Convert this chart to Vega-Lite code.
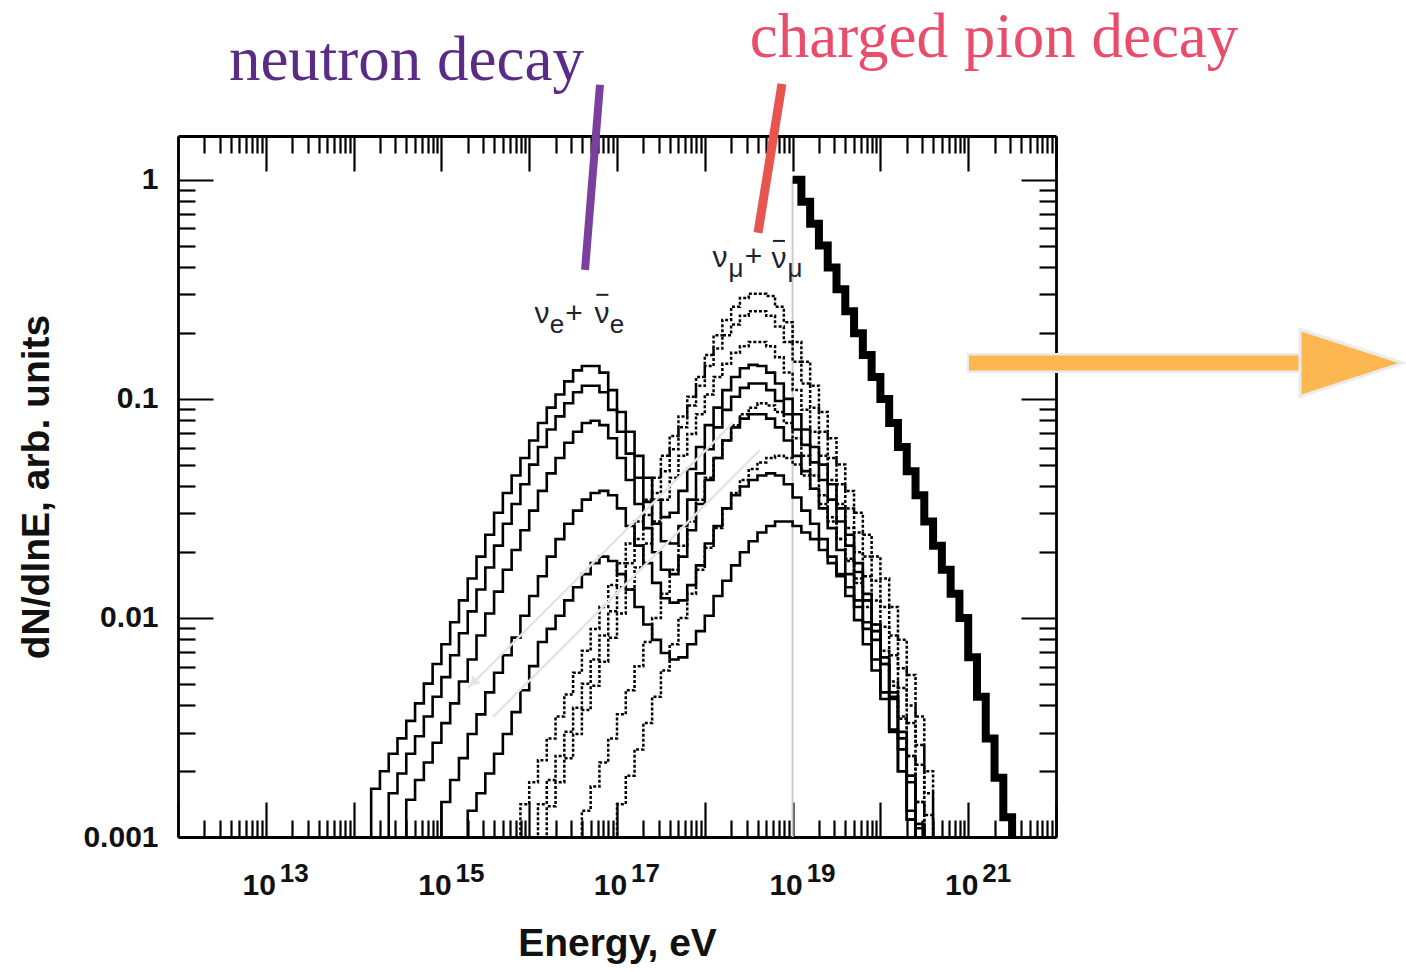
{
  "$schema": "https://vega.github.io/schema/vega-lite/v6.json",
  "width": 878,
  "height": 701,
  "autosize": {"type": "none"},
  "padding": {"left": 178, "top": 136, "right": 350, "bottom": 135},
  "background": "white",
  "config": {"view": {"stroke": null}, "font": "Liberation Sans", "axis": {"grid": false}},
  "datasets": {
    "nu_e": [
      {"curve":1,"lgE":14.1,"lgF":-3.5},{"curve":1,"lgE":14.2,"lgF":-2.78},{"curve":1,"lgE":14.3,"lgF":-2.7},{"curve":1,"lgE":14.4,"lgF":-2.62},{"curve":1,"lgE":14.5,"lgF":-2.55},{"curve":1,"lgE":14.6,"lgF":-2.47},{"curve":1,"lgE":14.7,"lgF":-2.39},{"curve":1,"lgE":14.8,"lgF":-2.3},{"curve":1,"lgE":14.9,"lgF":-2.21},{"curve":1,"lgE":15.0,"lgF":-2.12},{"curve":1,"lgE":15.1,"lgF":-2.02},{"curve":1,"lgE":15.2,"lgF":-1.92},{"curve":1,"lgE":15.3,"lgF":-1.82},{"curve":1,"lgE":15.4,"lgF":-1.72},{"curve":1,"lgE":15.5,"lgF":-1.62},{"curve":1,"lgE":15.6,"lgF":-1.52},{"curve":1,"lgE":15.7,"lgF":-1.43},{"curve":1,"lgE":15.8,"lgF":-1.35},{"curve":1,"lgE":15.9,"lgF":-1.27},{"curve":1,"lgE":16.0,"lgF":-1.19},{"curve":1,"lgE":16.1,"lgF":-1.11},{"curve":1,"lgE":16.2,"lgF":-1.04},{"curve":1,"lgE":16.3,"lgF":-0.98},{"curve":1,"lgE":16.4,"lgF":-0.92},{"curve":1,"lgE":16.5,"lgF":-0.87},{"curve":1,"lgE":16.6,"lgF":-0.85},{"curve":1,"lgE":16.7,"lgF":-0.85},{"curve":1,"lgE":16.8,"lgF":-0.88},{"curve":1,"lgE":16.9,"lgF":-0.96},{"curve":1,"lgE":17.0,"lgF":-1.06},{"curve":1,"lgE":17.1,"lgF":-1.15},{"curve":1,"lgE":17.2,"lgF":-1.26},{"curve":1,"lgE":17.3,"lgF":-1.36},{"curve":1,"lgE":17.4,"lgF":-1.46},{"curve":1,"lgE":17.5,"lgF":-1.54},{"curve":1,"lgE":17.6,"lgF":-1.52},{"curve":1,"lgE":17.7,"lgF":-1.42},{"curve":1,"lgE":17.8,"lgF":-1.32},{"curve":1,"lgE":17.9,"lgF":-1.22},{"curve":1,"lgE":18.0,"lgF":-1.12},{"curve":1,"lgE":18.1,"lgF":-1.04},{"curve":1,"lgE":18.2,"lgF":-0.96},{"curve":1,"lgE":18.3,"lgF":-0.9},{"curve":1,"lgE":18.4,"lgF":-0.86},{"curve":1,"lgE":18.5,"lgF":-0.845},{"curve":1,"lgE":18.6,"lgF":-0.85},{"curve":1,"lgE":18.7,"lgF":-0.88},{"curve":1,"lgE":18.8,"lgF":-0.93},{"curve":1,"lgE":18.9,"lgF":-1.0},{"curve":1,"lgE":19.0,"lgF":-1.07},{"curve":1,"lgE":19.1,"lgF":-1.14},{"curve":1,"lgE":19.2,"lgF":-1.22},{"curve":1,"lgE":19.3,"lgF":-1.3},{"curve":1,"lgE":19.4,"lgF":-1.39},{"curve":1,"lgE":19.5,"lgF":-1.5},{"curve":1,"lgE":19.6,"lgF":-1.62},{"curve":1,"lgE":19.7,"lgF":-1.75},{"curve":1,"lgE":19.8,"lgF":-1.89},{"curve":1,"lgE":19.9,"lgF":-2.03},{"curve":1,"lgE":20.0,"lgF":-2.18},{"curve":1,"lgE":20.1,"lgF":-2.34},{"curve":1,"lgE":20.2,"lgF":-2.52},{"curve":1,"lgE":20.3,"lgF":-2.72},{"curve":1,"lgE":20.4,"lgF":-2.94},{"curve":1,"lgE":20.5,"lgF":-3.5},
      {"curve":2,"lgE":14.3,"lgF":-3.5},{"curve":2,"lgE":14.4,"lgF":-2.8},{"curve":2,"lgE":14.5,"lgF":-2.71},{"curve":2,"lgE":14.6,"lgF":-2.62},{"curve":2,"lgE":14.7,"lgF":-2.54},{"curve":2,"lgE":14.8,"lgF":-2.45},{"curve":2,"lgE":14.9,"lgF":-2.36},{"curve":2,"lgE":15.0,"lgF":-2.27},{"curve":2,"lgE":15.1,"lgF":-2.17},{"curve":2,"lgE":15.2,"lgF":-2.07},{"curve":2,"lgE":15.3,"lgF":-1.97},{"curve":2,"lgE":15.4,"lgF":-1.87},{"curve":2,"lgE":15.5,"lgF":-1.77},{"curve":2,"lgE":15.6,"lgF":-1.67},{"curve":2,"lgE":15.7,"lgF":-1.57},{"curve":2,"lgE":15.8,"lgF":-1.48},{"curve":2,"lgE":15.9,"lgF":-1.39},{"curve":2,"lgE":16.0,"lgF":-1.3},{"curve":2,"lgE":16.1,"lgF":-1.22},{"curve":2,"lgE":16.2,"lgF":-1.14},{"curve":2,"lgE":16.3,"lgF":-1.08},{"curve":2,"lgE":16.4,"lgF":-1.02},{"curve":2,"lgE":16.5,"lgF":-0.97},{"curve":2,"lgE":16.6,"lgF":-0.94},{"curve":2,"lgE":16.7,"lgF":-0.94},{"curve":2,"lgE":16.8,"lgF":-0.97},{"curve":2,"lgE":16.9,"lgF":-1.05},{"curve":2,"lgE":17.0,"lgF":-1.15},{"curve":2,"lgE":17.1,"lgF":-1.25},{"curve":2,"lgE":17.2,"lgF":-1.36},{"curve":2,"lgE":17.3,"lgF":-1.47},{"curve":2,"lgE":17.4,"lgF":-1.57},{"curve":2,"lgE":17.5,"lgF":-1.65},{"curve":2,"lgE":17.6,"lgF":-1.66},{"curve":2,"lgE":17.7,"lgF":-1.58},{"curve":2,"lgE":17.8,"lgF":-1.46},{"curve":2,"lgE":17.9,"lgF":-1.34},{"curve":2,"lgE":18.0,"lgF":-1.23},{"curve":2,"lgE":18.1,"lgF":-1.13},{"curve":2,"lgE":18.2,"lgF":-1.05},{"curve":2,"lgE":18.3,"lgF":-0.99},{"curve":2,"lgE":18.4,"lgF":-0.95},{"curve":2,"lgE":18.5,"lgF":-0.93},{"curve":2,"lgE":18.6,"lgF":-0.93},{"curve":2,"lgE":18.7,"lgF":-0.96},{"curve":2,"lgE":18.8,"lgF":-1.01},{"curve":2,"lgE":18.9,"lgF":-1.07},{"curve":2,"lgE":19.0,"lgF":-1.14},{"curve":2,"lgE":19.1,"lgF":-1.21},{"curve":2,"lgE":19.2,"lgF":-1.29},{"curve":2,"lgE":19.3,"lgF":-1.37},{"curve":2,"lgE":19.4,"lgF":-1.46},{"curve":2,"lgE":19.5,"lgF":-1.56},{"curve":2,"lgE":19.6,"lgF":-1.67},{"curve":2,"lgE":19.7,"lgF":-1.79},{"curve":2,"lgE":19.8,"lgF":-1.92},{"curve":2,"lgE":19.9,"lgF":-2.06},{"curve":2,"lgE":20.0,"lgF":-2.21},{"curve":2,"lgE":20.1,"lgF":-2.37},{"curve":2,"lgE":20.2,"lgF":-2.55},{"curve":2,"lgE":20.3,"lgF":-2.75},{"curve":2,"lgE":20.4,"lgF":-2.96},{"curve":2,"lgE":20.5,"lgF":-3.5},
      {"curve":3,"lgE":14.5,"lgF":-3.5},{"curve":3,"lgE":14.6,"lgF":-2.83},{"curve":3,"lgE":14.7,"lgF":-2.74},{"curve":3,"lgE":14.8,"lgF":-2.66},{"curve":3,"lgE":14.9,"lgF":-2.57},{"curve":3,"lgE":15.0,"lgF":-2.48},{"curve":3,"lgE":15.1,"lgF":-2.39},{"curve":3,"lgE":15.2,"lgF":-2.29},{"curve":3,"lgE":15.3,"lgF":-2.19},{"curve":3,"lgE":15.4,"lgF":-2.08},{"curve":3,"lgE":15.5,"lgF":-1.98},{"curve":3,"lgE":15.6,"lgF":-1.88},{"curve":3,"lgE":15.7,"lgF":-1.78},{"curve":3,"lgE":15.8,"lgF":-1.69},{"curve":3,"lgE":15.9,"lgF":-1.6},{"curve":3,"lgE":16.0,"lgF":-1.51},{"curve":3,"lgE":16.1,"lgF":-1.42},{"curve":3,"lgE":16.2,"lgF":-1.34},{"curve":3,"lgE":16.3,"lgF":-1.27},{"curve":3,"lgE":16.4,"lgF":-1.2},{"curve":3,"lgE":16.5,"lgF":-1.15},{"curve":3,"lgE":16.6,"lgF":-1.11},{"curve":3,"lgE":16.7,"lgF":-1.1},{"curve":3,"lgE":16.8,"lgF":-1.12},{"curve":3,"lgE":16.9,"lgF":-1.18},{"curve":3,"lgE":17.0,"lgF":-1.27},{"curve":3,"lgE":17.1,"lgF":-1.37},{"curve":3,"lgE":17.2,"lgF":-1.48},{"curve":3,"lgE":17.3,"lgF":-1.59},{"curve":3,"lgE":17.4,"lgF":-1.7},{"curve":3,"lgE":17.5,"lgF":-1.78},{"curve":3,"lgE":17.6,"lgF":-1.8},{"curve":3,"lgE":17.7,"lgF":-1.72},{"curve":3,"lgE":17.8,"lgF":-1.6},{"curve":3,"lgE":17.9,"lgF":-1.48},{"curve":3,"lgE":18.0,"lgF":-1.37},{"curve":3,"lgE":18.1,"lgF":-1.27},{"curve":3,"lgE":18.2,"lgF":-1.19},{"curve":3,"lgE":18.3,"lgF":-1.13},{"curve":3,"lgE":18.4,"lgF":-1.09},{"curve":3,"lgE":18.5,"lgF":-1.07},{"curve":3,"lgE":18.6,"lgF":-1.07},{"curve":3,"lgE":18.7,"lgF":-1.09},{"curve":3,"lgE":18.8,"lgF":-1.13},{"curve":3,"lgE":18.9,"lgF":-1.19},{"curve":3,"lgE":19.0,"lgF":-1.26},{"curve":3,"lgE":19.1,"lgF":-1.33},{"curve":3,"lgE":19.2,"lgF":-1.41},{"curve":3,"lgE":19.3,"lgF":-1.5},{"curve":3,"lgE":19.4,"lgF":-1.59},{"curve":3,"lgE":19.5,"lgF":-1.69},{"curve":3,"lgE":19.6,"lgF":-1.8},{"curve":3,"lgE":19.7,"lgF":-1.92},{"curve":3,"lgE":19.8,"lgF":-2.05},{"curve":3,"lgE":19.9,"lgF":-2.19},{"curve":3,"lgE":20.0,"lgF":-2.34},{"curve":3,"lgE":20.1,"lgF":-2.51},{"curve":3,"lgE":20.2,"lgF":-2.7},{"curve":3,"lgE":20.3,"lgF":-2.92},{"curve":3,"lgE":20.4,"lgF":-3.5},
      {"curve":4,"lgE":14.9,"lgF":-3.5},{"curve":4,"lgE":15.0,"lgF":-2.84},{"curve":4,"lgE":15.1,"lgF":-2.74},{"curve":4,"lgE":15.2,"lgF":-2.64},{"curve":4,"lgE":15.3,"lgF":-2.53},{"curve":4,"lgE":15.4,"lgF":-2.44},{"curve":4,"lgE":15.5,"lgF":-2.34},{"curve":4,"lgE":15.6,"lgF":-2.25},{"curve":4,"lgE":15.7,"lgF":-2.17},{"curve":4,"lgE":15.8,"lgF":-2.09},{"curve":4,"lgE":15.9,"lgF":-1.99},{"curve":4,"lgE":16.0,"lgF":-1.9},{"curve":4,"lgE":16.1,"lgF":-1.81},{"curve":4,"lgE":16.2,"lgF":-1.72},{"curve":4,"lgE":16.3,"lgF":-1.64},{"curve":4,"lgE":16.4,"lgF":-1.57},{"curve":4,"lgE":16.5,"lgF":-1.51},{"curve":4,"lgE":16.6,"lgF":-1.46},{"curve":4,"lgE":16.7,"lgF":-1.43},{"curve":4,"lgE":16.8,"lgF":-1.42},{"curve":4,"lgE":16.9,"lgF":-1.44},{"curve":4,"lgE":17.0,"lgF":-1.5},{"curve":4,"lgE":17.1,"lgF":-1.58},{"curve":4,"lgE":17.2,"lgF":-1.67},{"curve":4,"lgE":17.3,"lgF":-1.75},{"curve":4,"lgE":17.4,"lgF":-1.84},{"curve":4,"lgE":17.5,"lgF":-1.91},{"curve":4,"lgE":17.6,"lgF":-1.93},{"curve":4,"lgE":17.7,"lgF":-1.92},{"curve":4,"lgE":17.8,"lgF":-1.85},{"curve":4,"lgE":17.9,"lgF":-1.76},{"curve":4,"lgE":18.0,"lgF":-1.66},{"curve":4,"lgE":18.1,"lgF":-1.58},{"curve":4,"lgE":18.2,"lgF":-1.5},{"curve":4,"lgE":18.3,"lgF":-1.44},{"curve":4,"lgE":18.4,"lgF":-1.4},{"curve":4,"lgE":18.5,"lgF":-1.37},{"curve":4,"lgE":18.6,"lgF":-1.35},{"curve":4,"lgE":18.7,"lgF":-1.34},{"curve":4,"lgE":18.8,"lgF":-1.35},{"curve":4,"lgE":18.9,"lgF":-1.39},{"curve":4,"lgE":19.0,"lgF":-1.45},{"curve":4,"lgE":19.1,"lgF":-1.51},{"curve":4,"lgE":19.2,"lgF":-1.57},{"curve":4,"lgE":19.3,"lgF":-1.64},{"curve":4,"lgE":19.4,"lgF":-1.72},{"curve":4,"lgE":19.5,"lgF":-1.81},{"curve":4,"lgE":19.6,"lgF":-1.9},{"curve":4,"lgE":19.7,"lgF":-2.01},{"curve":4,"lgE":19.8,"lgF":-2.12},{"curve":4,"lgE":19.9,"lgF":-2.24},{"curve":4,"lgE":20.0,"lgF":-2.37},{"curve":4,"lgE":20.1,"lgF":-2.52},{"curve":4,"lgE":20.2,"lgF":-2.7},{"curve":4,"lgE":20.3,"lgF":-2.92},{"curve":4,"lgE":20.4,"lgF":-3.5},
      {"curve":5,"lgE":15.2,"lgF":-3.5},{"curve":5,"lgE":15.3,"lgF":-2.88},{"curve":5,"lgE":15.4,"lgF":-2.8},{"curve":5,"lgE":15.5,"lgF":-2.71},{"curve":5,"lgE":15.6,"lgF":-2.62},{"curve":5,"lgE":15.7,"lgF":-2.53},{"curve":5,"lgE":15.8,"lgF":-2.43},{"curve":5,"lgE":15.9,"lgF":-2.33},{"curve":5,"lgE":16.0,"lgF":-2.22},{"curve":5,"lgE":16.1,"lgF":-2.11},{"curve":5,"lgE":16.2,"lgF":-2.05},{"curve":5,"lgE":16.3,"lgF":-1.99},{"curve":5,"lgE":16.4,"lgF":-1.92},{"curve":5,"lgE":16.5,"lgF":-1.86},{"curve":5,"lgE":16.6,"lgF":-1.8},{"curve":5,"lgE":16.7,"lgF":-1.75},{"curve":5,"lgE":16.8,"lgF":-1.72},{"curve":5,"lgE":16.9,"lgF":-1.74},{"curve":5,"lgE":17.0,"lgF":-1.8},{"curve":5,"lgE":17.1,"lgF":-1.87},{"curve":5,"lgE":17.2,"lgF":-1.95},{"curve":5,"lgE":17.3,"lgF":-2.03},{"curve":5,"lgE":17.4,"lgF":-2.1},{"curve":5,"lgE":17.5,"lgF":-2.16},{"curve":5,"lgE":17.6,"lgF":-2.19},{"curve":5,"lgE":17.7,"lgF":-2.18},{"curve":5,"lgE":17.8,"lgF":-2.12},{"curve":5,"lgE":17.9,"lgF":-2.06},{"curve":5,"lgE":18.0,"lgF":-1.99},{"curve":5,"lgE":18.1,"lgF":-1.9},{"curve":5,"lgE":18.2,"lgF":-1.83},{"curve":5,"lgE":18.3,"lgF":-1.76},{"curve":5,"lgE":18.4,"lgF":-1.7},{"curve":5,"lgE":18.5,"lgF":-1.65},{"curve":5,"lgE":18.6,"lgF":-1.61},{"curve":5,"lgE":18.7,"lgF":-1.58},{"curve":5,"lgE":18.8,"lgF":-1.56},{"curve":5,"lgE":18.9,"lgF":-1.56},{"curve":5,"lgE":19.0,"lgF":-1.58},{"curve":5,"lgE":19.1,"lgF":-1.61},{"curve":5,"lgE":19.2,"lgF":-1.64},{"curve":5,"lgE":19.3,"lgF":-1.69},{"curve":5,"lgE":19.4,"lgF":-1.75},{"curve":5,"lgE":19.5,"lgF":-1.8},{"curve":5,"lgE":19.6,"lgF":-1.86},{"curve":5,"lgE":19.7,"lgF":-1.95},{"curve":5,"lgE":19.8,"lgF":-2.02},{"curve":5,"lgE":19.9,"lgF":-2.1},{"curve":5,"lgE":20.0,"lgF":-2.21},{"curve":5,"lgE":20.1,"lgF":-2.36},{"curve":5,"lgE":20.2,"lgF":-2.6},{"curve":5,"lgE":20.3,"lgF":-2.88},{"curve":5,"lgE":20.4,"lgF":-3.5}
    ],
    "nu_mu": [
      {"curve":1,"lgE":15.8,"lgF":-3.5},{"curve":1,"lgE":15.9,"lgF":-2.85},{"curve":1,"lgE":16.0,"lgF":-2.75},{"curve":1,"lgE":16.1,"lgF":-2.65},{"curve":1,"lgE":16.2,"lgF":-2.55},{"curve":1,"lgE":16.3,"lgF":-2.45},{"curve":1,"lgE":16.4,"lgF":-2.35},{"curve":1,"lgE":16.5,"lgF":-2.25},{"curve":1,"lgE":16.6,"lgF":-2.15},{"curve":1,"lgE":16.7,"lgF":-2.05},{"curve":1,"lgE":16.8,"lgF":-1.95},{"curve":1,"lgE":16.9,"lgF":-1.85},{"curve":1,"lgE":17.0,"lgF":-1.75},{"curve":1,"lgE":17.1,"lgF":-1.66},{"curve":1,"lgE":17.2,"lgF":-1.56},{"curve":1,"lgE":17.3,"lgF":-1.46},{"curve":1,"lgE":17.4,"lgF":-1.36},{"curve":1,"lgE":17.5,"lgF":-1.26},{"curve":1,"lgE":17.6,"lgF":-1.17},{"curve":1,"lgE":17.7,"lgF":-1.08},{"curve":1,"lgE":17.8,"lgF":-0.99},{"curve":1,"lgE":17.9,"lgF":-0.9},{"curve":1,"lgE":18.0,"lgF":-0.8},{"curve":1,"lgE":18.1,"lgF":-0.71},{"curve":1,"lgE":18.2,"lgF":-0.64},{"curve":1,"lgE":18.3,"lgF":-0.58},{"curve":1,"lgE":18.4,"lgF":-0.54},{"curve":1,"lgE":18.5,"lgF":-0.52},{"curve":1,"lgE":18.6,"lgF":-0.52},{"curve":1,"lgE":18.7,"lgF":-0.53},{"curve":1,"lgE":18.8,"lgF":-0.58},{"curve":1,"lgE":18.9,"lgF":-0.65},{"curve":1,"lgE":19.0,"lgF":-0.74},{"curve":1,"lgE":19.1,"lgF":-0.83},{"curve":1,"lgE":19.2,"lgF":-0.94},{"curve":1,"lgE":19.3,"lgF":-1.06},{"curve":1,"lgE":19.4,"lgF":-1.18},{"curve":1,"lgE":19.5,"lgF":-1.3},{"curve":1,"lgE":19.6,"lgF":-1.42},{"curve":1,"lgE":19.7,"lgF":-1.52},{"curve":1,"lgE":19.8,"lgF":-1.62},{"curve":1,"lgE":19.9,"lgF":-1.72},{"curve":1,"lgE":20.0,"lgF":-1.82},{"curve":1,"lgE":20.1,"lgF":-1.95},{"curve":1,"lgE":20.2,"lgF":-2.1},{"curve":1,"lgE":20.3,"lgF":-2.26},{"curve":1,"lgE":20.4,"lgF":-2.45},{"curve":1,"lgE":20.5,"lgF":-2.7},{"curve":1,"lgE":20.6,"lgF":-3.5},
      {"curve":2,"lgE":16.0,"lgF":-3.5},{"curve":2,"lgE":16.1,"lgF":-2.85},{"curve":2,"lgE":16.2,"lgF":-2.74},{"curve":2,"lgE":16.3,"lgF":-2.63},{"curve":2,"lgE":16.4,"lgF":-2.52},{"curve":2,"lgE":16.5,"lgF":-2.41},{"curve":2,"lgE":16.6,"lgF":-2.3},{"curve":2,"lgE":16.7,"lgF":-2.19},{"curve":2,"lgE":16.8,"lgF":-2.08},{"curve":2,"lgE":16.9,"lgF":-1.97},{"curve":2,"lgE":17.0,"lgF":-1.86},{"curve":2,"lgE":17.1,"lgF":-1.75},{"curve":2,"lgE":17.2,"lgF":-1.64},{"curve":2,"lgE":17.3,"lgF":-1.53},{"curve":2,"lgE":17.4,"lgF":-1.43},{"curve":2,"lgE":17.5,"lgF":-1.33},{"curve":2,"lgE":17.6,"lgF":-1.23},{"curve":2,"lgE":17.7,"lgF":-1.13},{"curve":2,"lgE":17.8,"lgF":-1.03},{"curve":2,"lgE":17.9,"lgF":-0.94},{"curve":2,"lgE":18.0,"lgF":-0.85},{"curve":2,"lgE":18.1,"lgF":-0.77},{"curve":2,"lgE":18.2,"lgF":-0.71},{"curve":2,"lgE":18.3,"lgF":-0.66},{"curve":2,"lgE":18.4,"lgF":-0.62},{"curve":2,"lgE":18.5,"lgF":-0.6},{"curve":2,"lgE":18.6,"lgF":-0.6},{"curve":2,"lgE":18.7,"lgF":-0.62},{"curve":2,"lgE":18.8,"lgF":-0.67},{"curve":2,"lgE":18.9,"lgF":-0.74},{"curve":2,"lgE":19.0,"lgF":-0.83},{"curve":2,"lgE":19.1,"lgF":-0.93},{"curve":2,"lgE":19.2,"lgF":-1.04},{"curve":2,"lgE":19.3,"lgF":-1.15},{"curve":2,"lgE":19.4,"lgF":-1.27},{"curve":2,"lgE":19.5,"lgF":-1.39},{"curve":2,"lgE":19.6,"lgF":-1.5},{"curve":2,"lgE":19.7,"lgF":-1.61},{"curve":2,"lgE":19.8,"lgF":-1.72},{"curve":2,"lgE":19.9,"lgF":-1.83},{"curve":2,"lgE":20.0,"lgF":-1.95},{"curve":2,"lgE":20.1,"lgF":-2.08},{"curve":2,"lgE":20.2,"lgF":-2.23},{"curve":2,"lgE":20.3,"lgF":-2.4},{"curve":2,"lgE":20.4,"lgF":-2.58},{"curve":2,"lgE":20.5,"lgF":-2.8},{"curve":2,"lgE":20.6,"lgF":-3.5},
      {"curve":3,"lgE":16.1,"lgF":-3.5},{"curve":3,"lgE":16.2,"lgF":-2.86},{"curve":3,"lgE":16.3,"lgF":-2.75},{"curve":3,"lgE":16.4,"lgF":-2.64},{"curve":3,"lgE":16.5,"lgF":-2.53},{"curve":3,"lgE":16.6,"lgF":-2.42},{"curve":3,"lgE":16.7,"lgF":-2.31},{"curve":3,"lgE":16.8,"lgF":-2.2},{"curve":3,"lgE":16.9,"lgF":-2.09},{"curve":3,"lgE":17.0,"lgF":-1.98},{"curve":3,"lgE":17.1,"lgF":-1.87},{"curve":3,"lgE":17.2,"lgF":-1.77},{"curve":3,"lgE":17.3,"lgF":-1.66},{"curve":3,"lgE":17.4,"lgF":-1.56},{"curve":3,"lgE":17.5,"lgF":-1.46},{"curve":3,"lgE":17.6,"lgF":-1.36},{"curve":3,"lgE":17.7,"lgF":-1.26},{"curve":3,"lgE":17.8,"lgF":-1.16},{"curve":3,"lgE":17.9,"lgF":-1.07},{"curve":3,"lgE":18.0,"lgF":-0.98},{"curve":3,"lgE":18.1,"lgF":-0.9},{"curve":3,"lgE":18.2,"lgF":-0.84},{"curve":3,"lgE":18.3,"lgF":-0.79},{"curve":3,"lgE":18.4,"lgF":-0.76},{"curve":3,"lgE":18.5,"lgF":-0.74},{"curve":3,"lgE":18.6,"lgF":-0.74},{"curve":3,"lgE":18.7,"lgF":-0.76},{"curve":3,"lgE":18.8,"lgF":-0.81},{"curve":3,"lgE":18.9,"lgF":-0.88},{"curve":3,"lgE":19.0,"lgF":-0.96},{"curve":3,"lgE":19.1,"lgF":-1.05},{"curve":3,"lgE":19.2,"lgF":-1.15},{"curve":3,"lgE":19.3,"lgF":-1.26},{"curve":3,"lgE":19.4,"lgF":-1.37},{"curve":3,"lgE":19.5,"lgF":-1.48},{"curve":3,"lgE":19.6,"lgF":-1.59},{"curve":3,"lgE":19.7,"lgF":-1.7},{"curve":3,"lgE":19.8,"lgF":-1.81},{"curve":3,"lgE":19.9,"lgF":-1.92},{"curve":3,"lgE":20.0,"lgF":-2.04},{"curve":3,"lgE":20.1,"lgF":-2.17},{"curve":3,"lgE":20.2,"lgF":-2.32},{"curve":3,"lgE":20.3,"lgF":-2.48},{"curve":3,"lgE":20.4,"lgF":-2.67},{"curve":3,"lgE":20.5,"lgF":-2.9},{"curve":3,"lgE":20.6,"lgF":-3.5},
      {"curve":4,"lgE":16.5,"lgF":-3.5},{"curve":4,"lgE":16.6,"lgF":-2.88},{"curve":4,"lgE":16.7,"lgF":-2.77},{"curve":4,"lgE":16.8,"lgF":-2.66},{"curve":4,"lgE":16.9,"lgF":-2.55},{"curve":4,"lgE":17.0,"lgF":-2.44},{"curve":4,"lgE":17.1,"lgF":-2.33},{"curve":4,"lgE":17.2,"lgF":-2.22},{"curve":4,"lgE":17.3,"lgF":-2.11},{"curve":4,"lgE":17.4,"lgF":-2.0},{"curve":4,"lgE":17.5,"lgF":-1.89},{"curve":4,"lgE":17.6,"lgF":-1.78},{"curve":4,"lgE":17.7,"lgF":-1.67},{"curve":4,"lgE":17.8,"lgF":-1.56},{"curve":4,"lgE":17.9,"lgF":-1.46},{"curve":4,"lgE":18.0,"lgF":-1.36},{"curve":4,"lgE":18.1,"lgF":-1.27},{"curve":4,"lgE":18.2,"lgF":-1.19},{"curve":4,"lgE":18.3,"lgF":-1.12},{"curve":4,"lgE":18.4,"lgF":-1.07},{"curve":4,"lgE":18.5,"lgF":-1.04},{"curve":4,"lgE":18.6,"lgF":-1.02},{"curve":4,"lgE":18.7,"lgF":-1.03},{"curve":4,"lgE":18.8,"lgF":-1.06},{"curve":4,"lgE":18.9,"lgF":-1.11},{"curve":4,"lgE":19.0,"lgF":-1.18},{"curve":4,"lgE":19.1,"lgF":-1.26},{"curve":4,"lgE":19.2,"lgF":-1.35},{"curve":4,"lgE":19.3,"lgF":-1.44},{"curve":4,"lgE":19.4,"lgF":-1.54},{"curve":4,"lgE":19.5,"lgF":-1.64},{"curve":4,"lgE":19.6,"lgF":-1.74},{"curve":4,"lgE":19.7,"lgF":-1.84},{"curve":4,"lgE":19.8,"lgF":-1.95},{"curve":4,"lgE":19.9,"lgF":-2.06},{"curve":4,"lgE":20.0,"lgF":-2.18},{"curve":4,"lgE":20.1,"lgF":-2.31},{"curve":4,"lgE":20.2,"lgF":-2.46},{"curve":4,"lgE":20.3,"lgF":-2.63},{"curve":4,"lgE":20.4,"lgF":-2.84},{"curve":4,"lgE":20.5,"lgF":-3.5},
      {"curve":5,"lgE":16.9,"lgF":-3.5},{"curve":5,"lgE":17.0,"lgF":-2.85},{"curve":5,"lgE":17.1,"lgF":-2.72},{"curve":5,"lgE":17.2,"lgF":-2.6},{"curve":5,"lgE":17.3,"lgF":-2.48},{"curve":5,"lgE":17.4,"lgF":-2.36},{"curve":5,"lgE":17.5,"lgF":-2.24},{"curve":5,"lgE":17.6,"lgF":-2.12},{"curve":5,"lgE":17.7,"lgF":-2.0},{"curve":5,"lgE":17.8,"lgF":-1.89},{"curve":5,"lgE":17.9,"lgF":-1.78},{"curve":5,"lgE":18.0,"lgF":-1.68},{"curve":5,"lgE":18.1,"lgF":-1.59},{"curve":5,"lgE":18.2,"lgF":-1.5},{"curve":5,"lgE":18.3,"lgF":-1.43},{"curve":5,"lgE":18.4,"lgF":-1.37},{"curve":5,"lgE":18.5,"lgF":-1.32},{"curve":5,"lgE":18.6,"lgF":-1.29},{"curve":5,"lgE":18.7,"lgF":-1.27},{"curve":5,"lgE":18.8,"lgF":-1.26},{"curve":5,"lgE":18.9,"lgF":-1.27},{"curve":5,"lgE":19.0,"lgF":-1.3},{"curve":5,"lgE":19.1,"lgF":-1.35},{"curve":5,"lgE":19.2,"lgF":-1.41},{"curve":5,"lgE":19.3,"lgF":-1.48},{"curve":5,"lgE":19.4,"lgF":-1.56},{"curve":5,"lgE":19.5,"lgF":-1.64},{"curve":5,"lgE":19.6,"lgF":-1.73},{"curve":5,"lgE":19.7,"lgF":-1.82},{"curve":5,"lgE":19.8,"lgF":-1.92},{"curve":5,"lgE":19.9,"lgF":-2.03},{"curve":5,"lgE":20.0,"lgF":-2.15},{"curve":5,"lgE":20.1,"lgF":-2.29},{"curve":5,"lgE":20.2,"lgF":-2.45},{"curve":5,"lgE":20.3,"lgF":-2.63},{"curve":5,"lgE":20.4,"lgF":-2.84},{"curve":5,"lgE":20.5,"lgF":-3.5}
    ],
    "protons": [
      {"lgE":19.0,"lgF":0.0},{"lgE":19.1,"lgF":-0.1},{"lgE":19.2,"lgF":-0.2},{"lgE":19.3,"lgF":-0.3},{"lgE":19.4,"lgF":-0.4},{"lgE":19.5,"lgF":-0.5},{"lgE":19.6,"lgF":-0.6},{"lgE":19.7,"lgF":-0.7},{"lgE":19.8,"lgF":-0.8},{"lgE":19.9,"lgF":-0.9},{"lgE":20.0,"lgF":-1.0},{"lgE":20.1,"lgF":-1.11},{"lgE":20.2,"lgF":-1.22},{"lgE":20.3,"lgF":-1.33},{"lgE":20.4,"lgF":-1.44},{"lgE":20.5,"lgF":-1.56},{"lgE":20.6,"lgF":-1.67},{"lgE":20.7,"lgF":-1.78},{"lgE":20.8,"lgF":-1.89},{"lgE":20.9,"lgF":-2.0},{"lgE":21.0,"lgF":-2.18},{"lgE":21.1,"lgF":-2.36},{"lgE":21.2,"lgF":-2.55},{"lgE":21.3,"lgF":-2.73},{"lgE":21.4,"lgF":-2.91},{"lgE":21.5,"lgF":-3.5}
    ]
  },
  "layer": [
    {
      "data": {"values": [{"lgE": 19, "top": 0, "bottom": -3}]},
      "mark": {"type": "rule", "color": "#cccccc", "strokeWidth": 2},
      "encoding": {
        "x": {"field": "lgE", "type": "quantitative", "axis": null, "scale": {"domain": [12, 22], "nice": false, "zero": false}},
        "y": {"field": "top", "type": "quantitative", "axis": null, "scale": {"domain": [-3, 0.2], "nice": false, "zero": false}},
        "y2": {"field": "bottom"}
      }
    },
    {
      "data": {"name": "nu_e"},
      "mark": {"type": "line", "interpolate": "step-after", "clip": true, "color": "#000000", "strokeWidth": 2.6},
      "encoding": {
        "x": {
          "field": "lgE", "type": "quantitative",
          "scale": {"domain": [12, 22], "nice": false, "zero": false},
          "axis": {
            "orient": "bottom",
            "values": [12,12.301,12.477,12.602,12.699,12.778,12.845,12.903,12.954,13,13.301,13.477,13.602,13.699,13.778,13.845,13.903,13.954,14,14.301,14.477,14.602,14.699,14.778,14.845,14.903,14.954,15,15.301,15.477,15.602,15.699,15.778,15.845,15.903,15.954,16,16.301,16.477,16.602,16.699,16.778,16.845,16.903,16.954,17,17.301,17.477,17.602,17.699,17.778,17.845,17.903,17.954,18,18.301,18.477,18.602,18.699,18.778,18.845,18.903,18.954,19,19.301,19.477,19.602,19.699,19.778,19.845,19.903,19.954,20,20.301,20.477,20.602,20.699,20.778,20.845,20.903,20.954,21,21.301,21.477,21.602,21.699,21.778,21.845,21.903,21.954,22],
            "tickSize": {"condition": {"test": "datum.value % 1 == 0", "value": -35}, "value": -17},
            "tickWidth": 2.2, "tickColor": "#000000",
            "domainWidth": 2.8, "domainColor": "#000000",
            "labelExpr": "datum.value % 2 == 1 ? '10' : ''",
            "labelFont": "Liberation Sans", "labelFontSize": 30, "labelFontWeight": "bold", "labelColor": "#111111",
            "labelPadding": 68, "labelOffset": -7, "labelBaseline": "top", "labelAlign": "center",
            "labelOverlap": false, "labelFlush": false,
            "title": "Energy, eV", "titleFont": "Liberation Sans", "titleFontSize": 39, "titleFontWeight": "bold", "titleColor": "#111111", "titlePadding": 6
          }
        },
        "y": {
          "field": "lgF", "type": "quantitative",
          "scale": {"domain": [-3, 0.2], "nice": false, "zero": false},
          "axis": {
            "orient": "left",
            "values": [-3,-2.699,-2.523,-2.398,-2.301,-2.222,-2.155,-2.097,-2.046,-2,-1.699,-1.523,-1.398,-1.301,-1.222,-1.155,-1.097,-1.046,-1,-0.699,-0.523,-0.398,-0.301,-0.222,-0.155,-0.097,-0.046,0],
            "tickSize": {"condition": {"test": "datum.value % 1 == 0", "value": -35}, "value": -17},
            "tickWidth": 2.2, "tickColor": "#000000",
            "domainWidth": 2.8, "domainColor": "#000000",
            "labelExpr": "datum.value == 0 ? '1' : datum.value == -1 ? '0.1' : datum.value == -2 ? '0.01' : datum.value == -3 ? '0.001' : ''",
            "labelFont": "Liberation Sans", "labelFontSize": 30, "labelFontWeight": "bold", "labelColor": "#111111",
            "labelPadding": 55, "labelOverlap": false, "labelFlush": false,
            "title": "dN/dlnE, arb. units", "titleFont": "Liberation Sans", "titleFontSize": 39, "titleFontWeight": "bold", "titleColor": "#111111", "titlePadding": 26
          }
        },
        "detail": {"field": "curve"}
      }
    },
    {
      "data": {"name": "nu_mu"},
      "mark": {"type": "line", "interpolate": "step-after", "clip": true, "color": "#000000", "strokeWidth": 2.5, "strokeDash": [3, 2]},
      "encoding": {
        "x": {
          "field": "lgE", "type": "quantitative",
          "scale": {"domain": [12, 22], "nice": false, "zero": false},
          "axis": {
            "orient": "top",
            "values": [12,12.301,12.477,12.602,12.699,12.778,12.845,12.903,12.954,13,13.301,13.477,13.602,13.699,13.778,13.845,13.903,13.954,14,14.301,14.477,14.602,14.699,14.778,14.845,14.903,14.954,15,15.301,15.477,15.602,15.699,15.778,15.845,15.903,15.954,16,16.301,16.477,16.602,16.699,16.778,16.845,16.903,16.954,17,17.301,17.477,17.602,17.699,17.778,17.845,17.903,17.954,18,18.301,18.477,18.602,18.699,18.778,18.845,18.903,18.954,19,19.301,19.477,19.602,19.699,19.778,19.845,19.903,19.954,20,20.301,20.477,20.602,20.699,20.778,20.845,20.903,20.954,21,21.301,21.477,21.602,21.699,21.778,21.845,21.903,21.954,22],
            "tickSize": {"condition": {"test": "datum.value % 1 == 0", "value": -35}, "value": -17},
            "tickWidth": 2.2, "tickColor": "#000000",
            "domainWidth": 2.8, "domainColor": "#000000",
            "labels": false, "title": null
          }
        },
        "y": {
          "field": "lgF", "type": "quantitative",
          "scale": {"domain": [-3, 0.2], "nice": false, "zero": false},
          "axis": {
            "orient": "right",
            "values": [-3,-2.699,-2.523,-2.398,-2.301,-2.222,-2.155,-2.097,-2.046,-2,-1.699,-1.523,-1.398,-1.301,-1.222,-1.155,-1.097,-1.046,-1,-0.699,-0.523,-0.398,-0.301,-0.222,-0.155,-0.097,-0.046,0],
            "tickSize": {"condition": {"test": "datum.value % 1 == 0", "value": -35}, "value": -17},
            "tickWidth": 2.2, "tickColor": "#000000",
            "domainWidth": 2.8, "domainColor": "#000000",
            "labels": false, "title": null
          }
        },
        "detail": {"field": "curve"}
      }
    },
    {
      "data": {"name": "protons"},
      "mark": {"type": "line", "interpolate": "step-after", "clip": true, "color": "#000000", "strokeWidth": 8},
      "encoding": {
        "x": {
          "field": "lgE", "type": "quantitative",
          "scale": {"domain": [12, 22], "nice": false, "zero": false},
          "axis": {
            "orient": "bottom", "values": [13, 15, 17, 19, 21],
            "ticks": false, "domain": false,
            "labelFont": "Liberation Sans", "labelFontSize": 26, "labelFontWeight": "bold", "labelColor": "#111111",
            "labelPadding": 23, "labelOffset": 28, "labelBaseline": "top", "labelAlign": "center",
            "labelOverlap": false, "labelFlush": false, "title": null
          }
        },
        "y": {"field": "lgF", "type": "quantitative", "axis": null, "scale": {"domain": [-3, 0.2], "nice": false, "zero": false}}
      }
    },
    {
      "data": {"values": [
        {"lgE": 18.321, "lgF": -1.11, "lgE2": 15.303, "lgF2": -2.32},
        {"lgE": 18.629, "lgF": -1.233, "lgE2": 15.588, "lgF2": -2.452}
      ]},
      "mark": {"type": "rule", "color": "#e4e4e4", "strokeWidth": 2.5},
      "encoding": {
        "x": {"field": "lgE", "type": "quantitative", "axis": null, "scale": {"domain": [12, 22], "nice": false, "zero": false}},
        "y": {"field": "lgF", "type": "quantitative", "axis": null, "scale": {"domain": [-3, 0.2], "nice": false, "zero": false}},
        "x2": {"field": "lgE2"},
        "y2": {"field": "lgF2"}
      }
    },
    {
      "data": {"values": [{"lgE": 15.36, "lgF": -2.297}]},
      "mark": {"type": "point", "shape": "triangle-left", "angle": -45, "size": 140, "filled": true, "color": "#e4e4e4", "opacity": 1},
      "encoding": {
        "x": {"field": "lgE", "type": "quantitative", "axis": null, "scale": {"domain": [12, 22], "nice": false, "zero": false}},
        "y": {"field": "lgF", "type": "quantitative", "axis": null, "scale": {"domain": [-3, 0.2], "nice": false, "zero": false}}
      }
    },
    {
      "data": {"values": [{"lgE": 16.806, "lgF": 0.434, "lgE2": 16.636, "lgF2": -0.411}]},
      "mark": {"type": "rule", "color": "#7b3f9e", "strokeWidth": 8},
      "encoding": {
        "x": {"field": "lgE", "type": "quantitative", "axis": null, "scale": {"domain": [12, 22], "nice": false, "zero": false}},
        "y": {"field": "lgF", "type": "quantitative", "axis": null, "scale": {"domain": [-3, 0.2], "nice": false, "zero": false}},
        "x2": {"field": "lgE2"},
        "y2": {"field": "lgF2"}
      }
    },
    {
      "data": {"values": [{"lgE": 18.879, "lgF": 0.438, "lgE2": 18.606, "lgF2": -0.242}]},
      "mark": {"type": "rule", "color": "#e8554f", "strokeWidth": 9},
      "encoding": {
        "x": {"field": "lgE", "type": "quantitative", "axis": null, "scale": {"domain": [12, 22], "nice": false, "zero": false}},
        "y": {"field": "lgF", "type": "quantitative", "axis": null, "scale": {"domain": [-3, 0.2], "nice": false, "zero": false}},
        "x2": {"field": "lgE2"},
        "y2": {"field": "lgF2"}
      }
    },
    {
      "data": {"values": [{"lgE": 20.985, "lgF": -0.836, "lgE2": 24.8}]},
      "mark": {"type": "rule", "color": "#ebebeb", "strokeWidth": 20},
      "encoding": {
        "x": {"field": "lgE", "type": "quantitative", "axis": null, "scale": {"domain": [12, 22], "nice": false, "zero": false}},
        "y": {"field": "lgF", "type": "quantitative", "axis": null, "scale": {"domain": [-3, 0.2], "nice": false, "zero": false}},
        "x2": {"field": "lgE2"}
      }
    },
    {
      "data": {"values": [{"lgE": 21.009, "lgF": -0.836, "lgE2": 24.8}]},
      "mark": {"type": "rule", "color": "#fcb750", "strokeWidth": 15},
      "encoding": {
        "x": {"field": "lgE", "type": "quantitative", "axis": null, "scale": {"domain": [12, 22], "nice": false, "zero": false}},
        "y": {"field": "lgF", "type": "quantitative", "axis": null, "scale": {"domain": [-3, 0.2], "nice": false, "zero": false}},
        "x2": {"field": "lgE2"}
      }
    },
    {
      "data": {"values": [{"lgE": 25.366, "lgF": -0.836}]},
      "mark": {"type": "point", "shape": "M -1 -0.65 L 1 0 L -1 0.65 Z", "size": 10609, "filled": true, "fill": "#fcb750", "stroke": "#ebebeb", "strokeWidth": 3, "opacity": 1},
      "encoding": {
        "x": {"field": "lgE", "type": "quantitative", "axis": null, "scale": {"domain": [12, 22], "nice": false, "zero": false}},
        "y": {"field": "lgF", "type": "quantitative", "axis": null, "scale": {"domain": [-3, 0.2], "nice": false, "zero": false}}
      }
    },
    {
      "data": {"values": [{"label": "neutron decay", "lgE": 14.602, "lgF": 0.457}]},
      "mark": {"type": "text", "font": "Liberation Serif", "fontSize": 63, "color": "#5b2c86", "align": "center", "baseline": "alphabetic"},
      "encoding": {
        "x": {"field": "lgE", "type": "quantitative", "axis": null, "scale": {"domain": [12, 22], "nice": false, "zero": false}},
        "y": {"field": "lgF", "type": "quantitative", "axis": null, "scale": {"domain": [-3, 0.2], "nice": false, "zero": false}},
        "text": {"field": "label"}
      }
    },
    {
      "data": {"values": [{"label": "charged pion decay", "lgE": 21.294, "lgF": 0.562}]},
      "mark": {"type": "text", "font": "Liberation Serif", "fontSize": 63, "color": "#e84d6c", "align": "center", "baseline": "alphabetic"},
      "encoding": {
        "x": {"field": "lgE", "type": "quantitative", "axis": null, "scale": {"domain": [12, 22], "nice": false, "zero": false}},
        "y": {"field": "lgF", "type": "quantitative", "axis": null, "scale": {"domain": [-3, 0.2], "nice": false, "zero": false}},
        "text": {"field": "label"}
      }
    },
    {
      "data": {"values": [
        {"glyph": "ν", "lgE": 16.146, "lgF": -0.654},
        {"glyph": "+", "lgE": 16.51, "lgF": -0.652},
        {"glyph": "ν", "lgE": 16.829, "lgF": -0.654},
        {"glyph": "ν", "lgE": 18.173, "lgF": -0.397},
        {"glyph": "+", "lgE": 18.554, "lgF": -0.393},
        {"glyph": "ν", "lgE": 18.845, "lgF": -0.402}
      ]},
      "mark": {"type": "text", "font": "Liberation Sans", "fontSize": 30, "color": "#1e2230", "align": "center", "baseline": "alphabetic"},
      "encoding": {
        "x": {"field": "lgE", "type": "quantitative", "axis": null, "scale": {"domain": [12, 22], "nice": false, "zero": false}},
        "y": {"field": "lgF", "type": "quantitative", "axis": null, "scale": {"domain": [-3, 0.2], "nice": false, "zero": false}},
        "text": {"field": "glyph"}
      }
    },
    {
      "data": {"values": [
        {"lgE": 16.765, "lgF": -0.525, "lgE2": 16.902},
        {"lgE": 18.776, "lgF": -0.279, "lgE2": 18.913}
      ]},
      "mark": {"type": "rule", "color": "#1e2230", "strokeWidth": 2},
      "encoding": {
        "x": {"field": "lgE", "type": "quantitative", "axis": null, "scale": {"domain": [12, 22], "nice": false, "zero": false}},
        "y": {"field": "lgF", "type": "quantitative", "axis": null, "scale": {"domain": [-3, 0.2], "nice": false, "zero": false}},
        "x2": {"field": "lgE2"}
      }
    },
    {
      "data": {"values": [
        {"glyph": "e", "lgE": 16.317, "lgF": -0.7},
        {"glyph": "e", "lgE": 17.0, "lgF": -0.7},
        {"glyph": "μ", "lgE": 18.355, "lgF": -0.443},
        {"glyph": "μ", "lgE": 19.027, "lgF": -0.443}
      ]},
      "mark": {"type": "text", "font": "Liberation Sans", "fontSize": 26, "color": "#1e2230", "align": "center", "baseline": "alphabetic"},
      "encoding": {
        "x": {"field": "lgE", "type": "quantitative", "axis": null, "scale": {"domain": [12, 22], "nice": false, "zero": false}},
        "y": {"field": "lgF", "type": "quantitative", "axis": null, "scale": {"domain": [-3, 0.2], "nice": false, "zero": false}},
        "text": {"field": "glyph"}
      }
    }
  ],
  "resolve": {"axis": {"x": "independent", "y": "independent"}}
}
